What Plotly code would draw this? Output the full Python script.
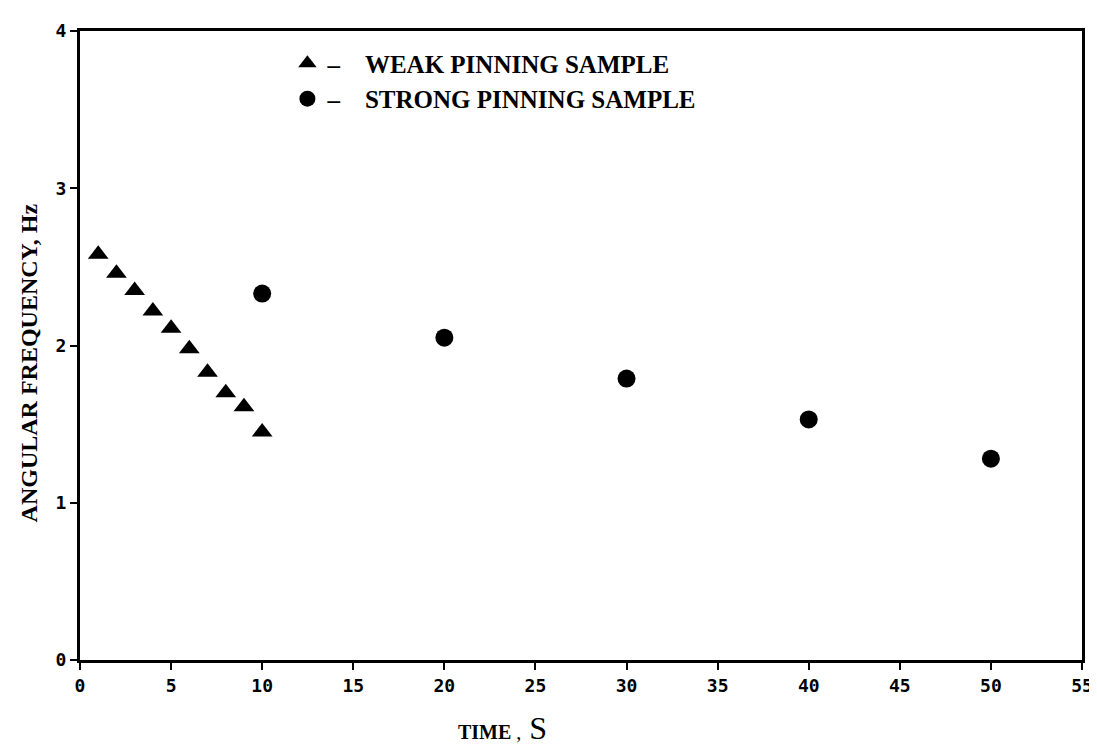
import plotly.graph_objects as go

weak_time = [1, 2, 3, 4, 5, 6, 7, 8, 9, 10]
weak_freq = [2.58, 2.46, 2.35, 2.22, 2.11, 1.98, 1.83, 1.70, 1.61, 1.45]
strong_time = [10, 20, 30, 40, 50]
strong_freq = [2.33, 2.05, 1.79, 1.53, 1.28]

x_ticks = [0, 5, 10, 15, 20, 25, 30, 35, 40, 45, 50, 55]
x_ticklabels = ["0", "5", "10", "15", "20", "25", "30", "35", "40", "45", "50", "55"]
y_ticks = [0, 1, 2, 3, 4]
y_ticklabels = ["0", "1", "2", "3", "4"]

NB = "\u00a0"

fig = go.Figure()
fig.add_trace(go.Scatter(
    x=weak_time, y=weak_freq, mode="markers",
    name="–" + NB * 4 + "WEAK PINNING SAMPLE",
    marker=dict(symbol="triangle-up", size=18, color="black"),
))
fig.add_trace(go.Scatter(
    x=strong_time, y=strong_freq, mode="markers",
    name="–" + NB * 4 + "STRONG PINNING SAMPLE",
    marker=dict(symbol="circle", size=18, color="black"),
))

axis_common = dict(
    showline=True, linecolor="black", linewidth=3, mirror=True,
    ticks="outside", ticklen=7, tickwidth=1.5, tickcolor="black",
    showgrid=False, zeroline=False,
    tickfont=dict(family="DejaVu Sans Mono", size=18, color="black", weight="bold"),
)

fig.update_xaxes(range=[0, 55], tickvals=x_ticks, ticktext=x_ticklabels, **axis_common)
fig.update_yaxes(range=[0, 4], tickvals=y_ticks, ticktext=y_ticklabels, **axis_common)

fig.add_annotation(
    xref="paper", yref="paper", x=-0.05, y=0.473, xanchor="center", yanchor="middle",
    text="<b>ANGULAR FREQUENCY, Hz</b>", textangle=-90,
    showarrow=False, font=dict(family="Liberation Serif", size=24, color="black"),
)

fig.add_annotation(
    xref="paper", yref="paper", x=0.422, y=-0.108, xanchor="center", yanchor="middle",
    text="<b>TIME</b> ,<span style='font-size:32px'> S</span>",
    showarrow=False, font=dict(family="Liberation Serif", size=20, color="black"),
)

fig.update_layout(
    width=1097, height=744,
    margin=dict(l=72, r=14, t=20, b=92),
    paper_bgcolor="white", plot_bgcolor="white",
    showlegend=True,
    legend=dict(
        x=0.207, y=0.985, xanchor="left", yanchor="top",
        bgcolor="rgba(0,0,0,0)", borderwidth=0,
        font=dict(family="Liberation Serif", size=25, color="black", weight="bold"),
        itemsizing="trace", tracegroupgap=0, itemwidth=30,
    ),
)

fig.write_html("out.html")
